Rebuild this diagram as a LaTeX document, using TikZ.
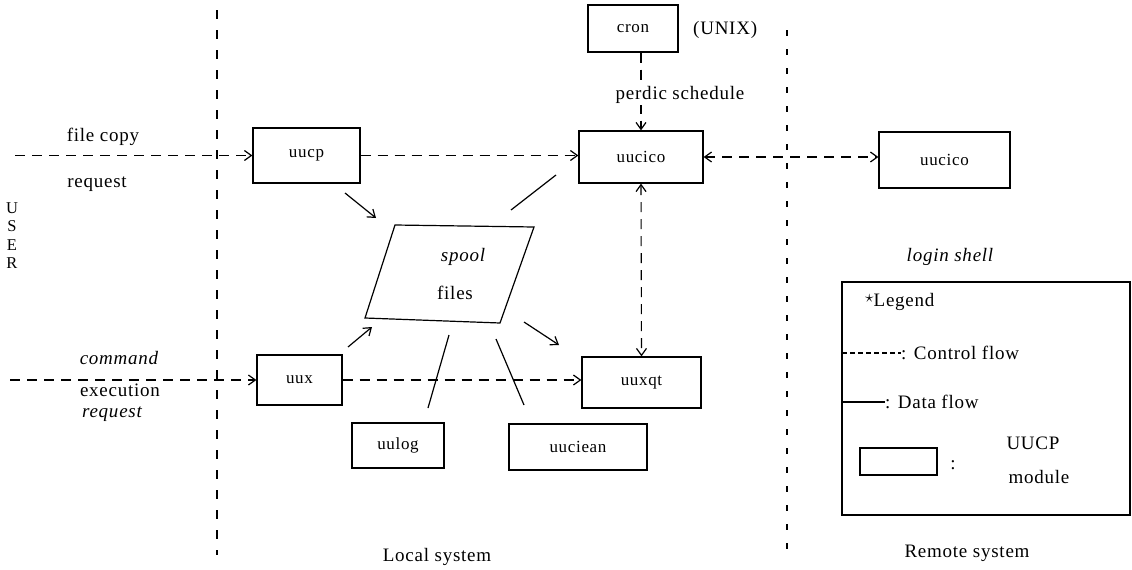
\documentclass[tikz,border=0pt]{standalone}
\usepackage{fontspec}
\setmainfont{Liberation Serif}[LetterSpace=4]
\usetikzlibrary{arrows.meta}
\begin{document}
\begin{tikzpicture}[x=1pt,y=-1pt,
  font=\fontsize{19}{21}\selectfont,
  box/.style={draw, line width=1.2pt, inner sep=0pt, font=\fontsize{17}{19}\selectfont},
  ctrl/.style={line width=1.1pt, dash pattern=on 10pt off 7pt},
  data/.style={line width=1.2pt},
  arr/.style={-{Straight Barb[length=7pt,width=10pt,line width=1.2pt]}},
  darr/.style={{Straight Barb[length=7pt,width=10pt,line width=1.2pt]}-{Straight Barb[length=7pt,width=10pt,line width=1.2pt]}},
  sepl/.style={line width=1.5pt, dash pattern=on 9pt off 11pt},
  sepr/.style={line width=1.5pt, dash pattern=on 6pt off 13pt},
  lbl/.style={inner sep=1pt},
  userletter/.style={inner sep=0pt, font=\fontsize{16.5}{16.5}\selectfont}]
\useasboundingbox (0,0) rectangle (1132,570);

% separators
\coordinate (L1) at (217,10);
\coordinate (L2) at (217,555);
\coordinate (R1) at (787,30);
\coordinate (R2) at (787,555);
\draw[sepl] (L1) -- (L2);
\draw[sepr] (R1) -- (R2);

% modules
\node[box, minimum width=107, minimum height=55] (uucp) at (306.5,155.5) {uucp};
\node[box, minimum width=90, minimum height=47] (cron) at (633,28.5) {cron};
\node[lbl, anchor=west] (unix) at (692,30) {(UNIX)};
\node[box, minimum width=124, minimum height=52] (uucico) at (641,157) {uucico};
\node[box, minimum width=131, minimum height=56] (ruucico) at (944.5,160) {uucico};
\node[box, minimum width=119, minimum height=51] (uuxqt) at (641.5,382.5) {uuxqt};
\node[box, minimum width=85, minimum height=50] (uux) at (299.5,380) {uux};
\node[box, minimum width=92, minimum height=45] (uulog) at (398,445.5) {uulog};
\node[box, minimum width=138, minimum height=46] (uuciean) at (578,447) {uuciean};

% spool files
\coordinate (s1) at (395,225);
\coordinate (s2) at (534,227);
\coordinate (s3) at (500,323);
\coordinate (s4) at (365,318);
\draw[line width=1.2pt] (s1) -- (s2) -- (s3) -- (s4) -- cycle;
\node[lbl] (spool) at (463,257) {\itshape spool};
\node[lbl] (files) at (455,293) {files};

% user side
\node[userletter] (uU) at (12,208) {U};
\node[userletter] (uS) at (12,226.5) {S};
\node[userletter] (uE) at (12,245) {E};
\node[userletter] (uR) at (12,263.5) {R};
\node[lbl] (fc) at (103,137) {file copy};
\node[lbl] (rq1) at (97,184) {request};
\node[lbl] (cmd) at (119,358) {\itshape command};
\node[lbl] (exe) at (120,390) {execution};
\node[lbl] (rq2) at (112,414) {\itshape request};
\coordinate (u1) at (15,155.5);
\coordinate (u2) at (10,380);

% control flows
\draw[ctrl, arr] (u1) -- (uucp.west);
\draw[ctrl, arr] (u2) -- (uux.west);
\draw[ctrl, arr] (uucp.east) -- (uucp.east -| uucico.west);
\draw[ctrl, arr] (uux.east) -- (uux.east -| uuxqt.west);
\draw[ctrl, arr] (uucico.north |- cron.south) -- (uucico.north);
\node[lbl, fill=white] (perdic) at (680,95) {perdic schedule};
\draw[ctrl, darr] (uucico.east) -- (uucico.east -| ruucico.west);
\draw[ctrl, darr] (uucico.south) -- (uuxqt.north);

% data flows
\coordinate (a1) at (345,193);  \coordinate (a2) at (376,218);
\coordinate (b1) at (511,210);  \coordinate (b2) at (556,175);
\coordinate (c1) at (348,347);  \coordinate (c2) at (372,327);
\coordinate (d1) at (524,322);  \coordinate (d2) at (559,345);
\coordinate (e1) at (449,335);  \coordinate (e2) at (428,408);
\coordinate (f1) at (496,339);  \coordinate (f2) at (524,405);
\draw[data, arr] (a1) -- (a2);
\draw[data] (b1) -- (b2);
\draw[data, arr] (c1) -- (c2);
\draw[data, arr] (d1) -- (d2);
\draw[data] (e1) -- (e2);
\draw[data] (f1) -- (f2);

% remote side
\node[lbl] (login) at (950,257) {\itshape login shell};
\node[box, minimum width=288, minimum height=233] (legend) at (986,398.5) {};
\node[lbl, anchor=west] (legt) at (864,302) {\raisebox{4pt}{\fontsize{16}{16}\selectfont$\star$}Legend};
\coordinate (lc1) at (842,353);
\coordinate (lc2) at (901,353);
\draw[line width=1.1pt, dash pattern=on 5pt off 3pt] (lc1) -- (lc2);
\node[lbl, anchor=west] (lct) at (900,353) {: Control flow};
\coordinate (ld1) at (842,402);
\coordinate (ld2) at (885,402);
\draw[data] (ld1) -- (ld2);
\node[lbl, anchor=west] (ldt) at (884,402) {: Data flow};
\node[box, minimum width=77, minimum height=27] (lbox) at (898.5,461.5) {};
\node[lbl] (lcol) at (953,465) {:};
\node[lbl] (luucp) at (1033,443) {UUCP};
\node[lbl] (lmod) at (1039,477) {module};

% region labels
\node[lbl] (local) at (437,557) {Local system};
\node[lbl] (remote) at (967,553) {Remote system};
\end{tikzpicture}
\end{document}
